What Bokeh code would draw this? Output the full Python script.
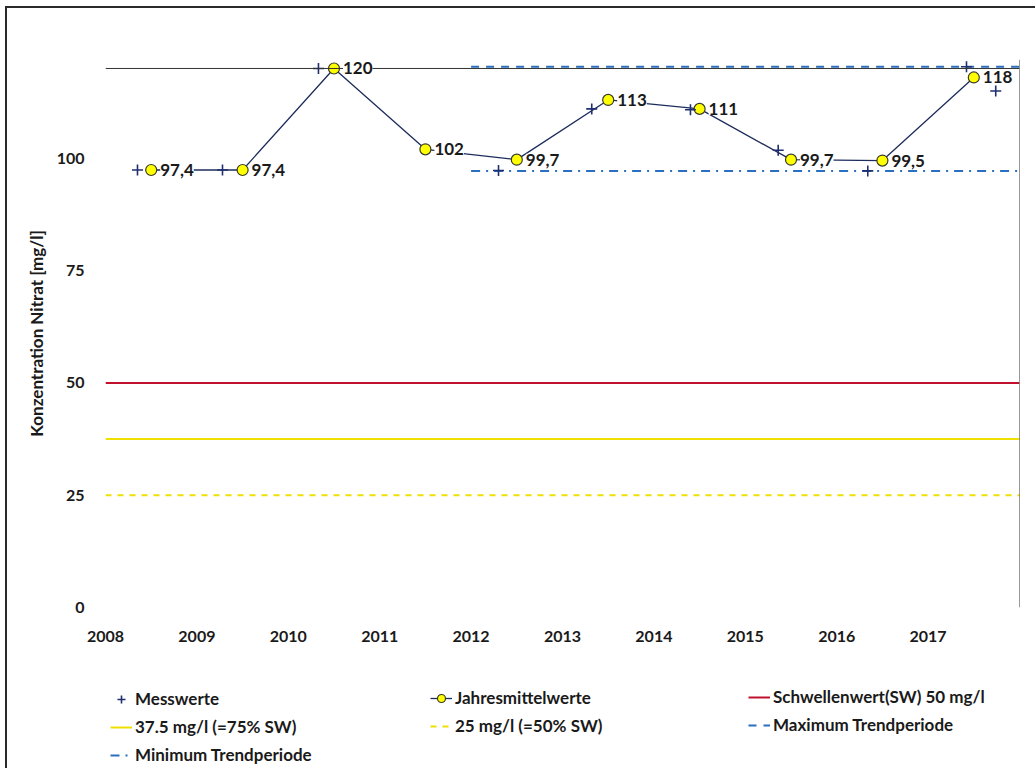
from bokeh.plotting import figure
from bokeh.layouts import column
from bokeh.models import (ColumnDataSource, LabelSet, Legend, LegendItem,
                          FixedTicker, Range1d, Span)
from bokeh.core.properties import value
from bokeh.embed import file_html
from bokeh.resources import INLINE

# ---------------- data ----------------
years = list(range(2008, 2018))
mean_x = [y + 0.5 for y in years]
mean_values = [97.4, 97.4, 120.0, 102.0, 99.7, 113.0, 111.0, 99.7, 99.5, 118.0]
mean_labels = ["97,4", "97,4", "120", "102", "99,7", "113", "111", "99,7", "99,5", "118"]

mess_x = [2008.35, 2009.28, 2010.33, 2012.30, 2013.32, 2014.40, 2015.36, 2016.34, 2017.42, 2017.74]
mess_values = [97.4, 97.4, 120.0, 97.3, 111.0, 110.8, 101.8, 97.2, 120.4, 115.0]

y_ticks = [0, 25, 50, 75, 100]
x_ticks = years

sw_value = 50.0
sw75_value = 37.5
sw50_value = 25.0

x_start, x_end = 2008, 2018
trend_start, trend_end = 2012, 2018
trend_max = 120.4
trend_min = 97.2
y_end = 122

FONT = "Lato"
TXT = "#1a1a1a"

# styles
C_SW = "#c0102c"
C_YEL = "#eee000"
C_TREND = "#2a6fc0"
C_MEAN = "#1c2c5c"
C_MESS = "#1f2f6f"

p = figure(width=1028, height=639,
           x_range=Range1d(x_start, x_end), y_range=Range1d(0, y_end),
           output_backend="svg", toolbar_location=None,
           min_border_left=98, min_border_right=16,
           min_border_top=51, min_border_bottom=40)
p.outline_line_color = None
p.xgrid.visible = False
p.ygrid.visible = False

# frame lines (top at max yearly mean, right edge)
p.add_layout(Span(location=max(mean_values), dimension="width",
                  line_color="#333333", line_width=1))
p.add_layout(Span(location=x_end, dimension="height",
                  line_color="#333333", line_width=1))

# threshold lines
p.line([x_start, x_end], [sw_value, sw_value], line_color=C_SW, line_width=2)
p.line([x_start, x_end], [sw75_value, sw75_value], line_color=C_YEL, line_width=2)
p.line([x_start, x_end], [sw50_value, sw50_value], line_color=C_YEL,
       line_width=2, line_dash="6 6")

# trend period lines
p.line([trend_start, trend_end], [trend_max, trend_max], line_color=C_TREND,
       line_width=2, line_dash="8 7")
p.line([trend_start, trend_end], [trend_min, trend_min], line_color=C_TREND,
       line_width=2, line_dash="9 6 2 6")

# yearly means
p.line(mean_x, mean_values, line_color=C_MEAN, line_width=1.3)
p.scatter(mean_x, mean_values, size=11, fill_color="#ffff00",
          line_color="#3a3a2a", line_width=1.2)

# measurements
p.scatter(mess_x, mess_values, marker="cross", size=11,
          line_color=C_MESS, line_width=1.6)

src = ColumnDataSource(dict(x=mean_x, y=mean_values, label=mean_labels))
labels = LabelSet(x="x", y="y", text="label", source=src, x_offset=9,
                  text_baseline="middle", text_align="left",
                  text_font=value(FONT), text_font_style="bold",
                  text_font_size="17px", text_color=TXT,
                  background_fill_color="white")
p.add_layout(labels)

# axes
for ax in (p.xaxis, p.yaxis):
    ax.axis_line_color = None
    ax.major_tick_line_color = None
    ax.minor_tick_line_color = None
    ax.major_label_text_font = FONT
    ax.major_label_text_font_style = "bold"
    ax.major_label_text_font_size = "16px"
    ax.major_label_text_color = TXT

p.xaxis.ticker = FixedTicker(ticks=x_ticks)
p.xaxis.major_label_standoff = 17
p.yaxis.ticker = FixedTicker(ticks=y_ticks)
p.yaxis.major_label_standoff = 15
p.yaxis.axis_label = "Konzentration Nitrat [mg/l]"
p.yaxis.axis_label_text_font = FONT
p.yaxis.axis_label_text_font_style = "bold"
p.yaxis.axis_label_text_font_size = "17px"
p.yaxis.axis_label_text_color = TXT
p.yaxis.axis_label_standoff = 7

# ---------------- legend area ----------------
pl = figure(width=1028, height=121, x_range=Range1d(0, 1), y_range=Range1d(0, 1),
            output_backend="svg", toolbar_location=None,
            x_axis_location=None, y_axis_location=None,
            min_border=0)
pl.outline_line_color = None
pl.xgrid.visible = False
pl.ygrid.visible = False

nan = [float("nan")]
l_mess = pl.scatter(nan, nan, marker="cross", size=11, line_color=C_MESS, line_width=1.6)
l_mline = pl.line(nan, nan, line_color=C_MEAN, line_width=1.3)
l_mpts = pl.scatter(nan, nan, size=11, fill_color="#ffff00", line_color="#3a3a2a", line_width=1.2)
l_sw = pl.line(nan, nan, line_color=C_SW, line_width=2)
l_75 = pl.line(nan, nan, line_color=C_YEL, line_width=2)
l_50 = pl.line(nan, nan, line_color=C_YEL, line_width=2, line_dash="6 6")
l_max = pl.line(nan, nan, line_color=C_TREND, line_width=2, line_dash="8 7")
l_min = pl.line(nan, nan, line_color=C_TREND, line_width=2, line_dash="9 6 2 6")


def make_legend(items, loc):
    leg = Legend(items=items, location=loc)
    leg.padding = 0
    leg.margin = 0
    leg.border_line_color = None
    leg.background_fill_alpha = 0
    leg.glyph_width = 22
    leg.glyph_height = 20
    leg.label_height = 20
    leg.label_standoff = 3
    leg.spacing = 7
    leg.label_text_font = FONT
    leg.label_text_font_style = "bold"
    leg.label_text_font_size = "17px"
    leg.label_text_color = TXT
    return leg


leg1 = make_legend([
    LegendItem(label="Messwerte", renderers=[l_mess]),
    LegendItem(label="37.5 mg/l (=75% SW)", renderers=[l_75]),
    LegendItem(label="Minimum Trendperiode", renderers=[l_min]),
], (5, 3))
leg2 = make_legend([
    LegendItem(label="Jahresmittelwerte", renderers=[l_mline, l_mpts]),
    LegendItem(label="25 mg/l (=50% SW)", renderers=[l_50]),
], (325, 32))
leg3 = make_legend([
    LegendItem(label="Schwellenwert(SW) 50 mg/l", renderers=[l_sw]),
    LegendItem(label="Maximum Trendperiode", renderers=[l_max]),
], (643, 33))
for lg in (leg1, leg2, leg3):
    pl.add_layout(lg)

layout = column(p, pl, spacing=0)
layout.styles = {"margin-left": "5px", "margin-top": "6px",
                 "border-left": "2px solid #2a2a2a",
                 "border-top": "2px solid #2a2a2a"}

open("out.html", "w").write(file_html(layout, INLINE))
